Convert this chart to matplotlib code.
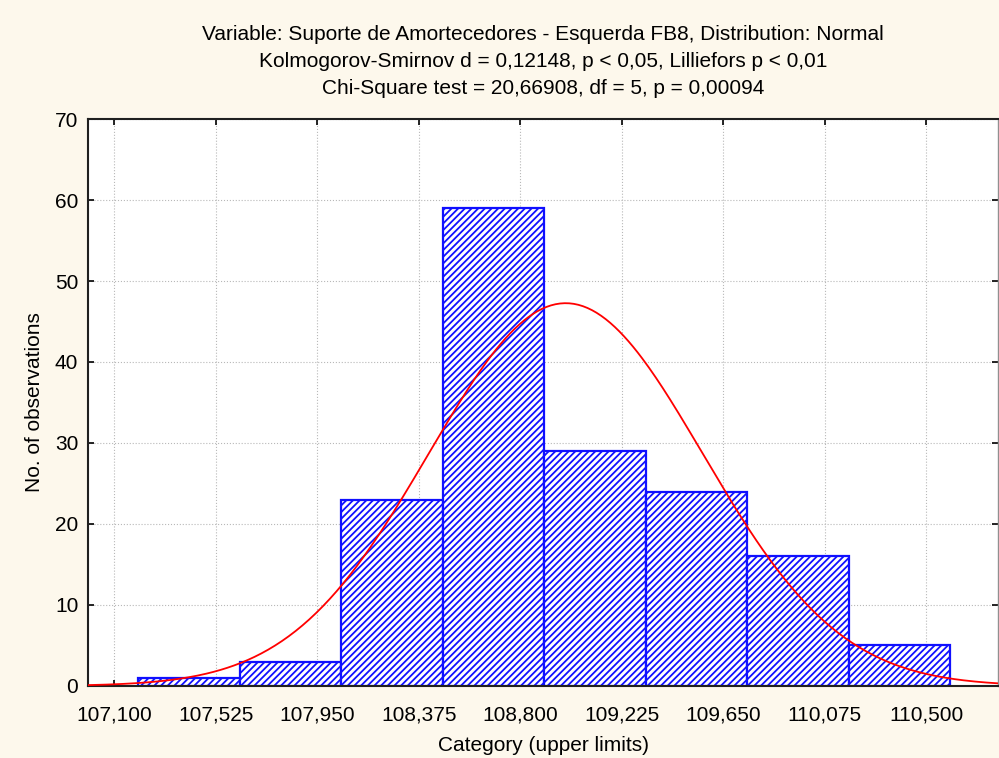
import numpy as np
import matplotlib
matplotlib.use("Agg")
import matplotlib.pyplot as plt

plt.rcParams['font.family'] = ['Liberation Sans', 'DejaVu Sans']
plt.rcParams['hatch.color'] = '#2a2aff'
plt.rcParams['hatch.linewidth'] = 1.3

# histogram data (bin lower edges and counts)
bin_left = [107.2, 107.625, 108.05, 108.475, 108.9, 109.325, 109.75, 110.175]
bin_width = 0.425
counts = [1, 3, 23, 59, 29, 24, 16, 5]
tick_vals = [107.1, 107.525, 107.95, 108.375, 108.8, 109.225, 109.65, 110.075, 110.5]
tick_labels = ['107,100', '107,525', '107,950', '108,375', '108,800',
               '109,225', '109,650', '110,075', '110,500']
# fitted normal
fit_mean = 108.99
fit_sd = 0.574

title = ("Variable: Suporte de Amortecedores - Esquerda FB8, Distribution: Normal\n"
         "Kolmogorov-Smirnov d = 0,12148, p < 0,05, Lilliefors p < 0,01\n"
         "Chi-Square test = 20,66908, df = 5, p = 0,00094")

fig = plt.figure(figsize=(9.99, 7.58), dpi=100, facecolor='#fdf8ec')
ax = fig.add_axes([0.0881, 0.095, 0.9109, 0.748])
ax.set_facecolor('white')

ax.bar(bin_left, counts, width=bin_width, align='edge', facecolor='white',
       edgecolor='#1010ff', linewidth=1.6, hatch='/////', zorder=2)

n = sum(counts)
xs = np.linspace(106.99, 110.8, 400)
ys = n * bin_width / (fit_sd * np.sqrt(2 * np.pi)) * np.exp(-0.5 * ((xs - fit_mean) / fit_sd) ** 2)
ax.plot(xs, ys, color='red', lw=1.3, zorder=3)

ax.set_xlim(106.99, 110.8)
ax.set_ylim(0, 70)
ax.set_xticks(tick_vals)
ax.set_xticklabels(tick_labels)
ax.set_yticks(range(0, 71, 10))
ax.tick_params(direction='in', top=True, right=True, labelsize=15, length=4, width=1.2)
ax.tick_params(axis='x', pad=14)
ax.tick_params(axis='y', pad=7)
ax.grid(True, linestyle=':', color='#b8b8b8', lw=0.8, zorder=0)
ax.set_axisbelow(True)
for s in ax.spines.values():
    s.set_linewidth(1.5)
    s.set_color('#202020')
ax.spines['right'].set_color('#909090')
ax.spines['right'].set_linewidth(1.0)

ax.set_xlabel('Category (upper limits)', fontsize=15, labelpad=8)
ax.set_ylabel('No. of observations', fontsize=15, labelpad=8)
ax.set_title(title, fontsize=15, linespacing=1.55, pad=18)

fig.savefig('out.png', dpi=100, facecolor=fig.get_facecolor())
